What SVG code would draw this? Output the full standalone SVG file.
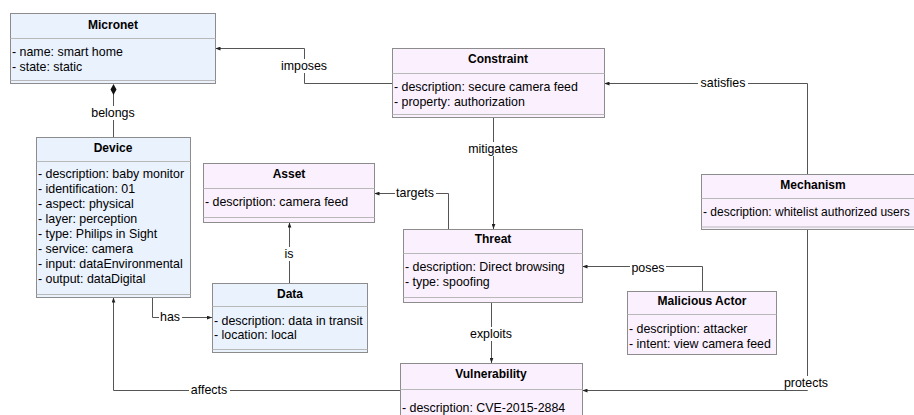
<svg xmlns="http://www.w3.org/2000/svg" width="914" height="415" viewBox="0 0 914 415">
<defs>
<style>
text{font-family:"Liberation Sans",Arial,sans-serif;font-size:12.4px;fill:#000}
.t{font-weight:bold;text-anchor:middle;font-size:12px}
.blue{fill:#eaf2fe;stroke:#8c8c8c;stroke-width:1}
.pink{fill:#fbf1fe;stroke:#8c8c8c;stroke-width:1}
.sep{stroke:#b8b8b8;stroke-width:1;fill:none}
.c{fill:none;stroke:#555;stroke-width:1}
.lb{fill:#fff}
.l{text-anchor:middle}
</style>
<marker id="arr" viewBox="0 0 8 6" markerWidth="5" markerHeight="4" refX="8" refY="3" orient="auto" markerUnits="userSpaceOnUse">
<path d="M0,0 L8,3 L0,6 z" fill="#222"/>
</marker>
</defs>
<g id="connectors">
<path class="c" d="M392.5,83.5 H304.5 V48.5 H215.5" marker-end="url(#arr)"/>
<path class="c" d="M113.5,137 V94"/>
<polygon points="113.5,84 116.5,89.5 113.5,95 110.5,89.5" fill="#111"/>
<path class="c" d="M493.5,118 V229" marker-end="url(#arr)"/>
<path class="c" d="M807.5,174 V83.5 H604.5" marker-end="url(#arr)"/>
<path class="c" d="M448.5,229 V193.5 H374.5" marker-end="url(#arr)"/>
<path class="c" d="M289.5,283 V222.5" marker-end="url(#arr)"/>
<path class="c" d="M152.5,297 V317.5 H212" marker-end="url(#arr)"/>
<path class="c" d="M400,390.5 H113.5 V297.5" marker-end="url(#arr)"/>
<path class="c" d="M702.5,291 V266.5 H582.5" marker-end="url(#arr)"/>
<path class="c" d="M491.5,302 V363" marker-end="url(#arr)"/>
<path class="c" d="M807.5,229 V390.5 H582.5" marker-end="url(#arr)"/>
<rect class="lb" x="280" y="59" width="48" height="14"/><text class="l" x="304" y="70">imposes</text>
<rect class="lb" x="90" y="106" width="46" height="14"/><text class="l" x="113" y="117">belongs</text>
<rect class="lb" x="466" y="142" width="54" height="14"/><text class="l" x="493" y="153">mitigates</text>
<rect class="lb" x="698" y="76" width="50" height="14"/><text class="l" x="723" y="87">satisfies</text>
<rect class="lb" x="395" y="186" width="41" height="14"/><text class="l" x="415" y="197">targets</text>
<rect class="lb" x="283" y="247" width="12" height="14"/><text class="l" x="289" y="258">is</text>
<rect class="lb" x="159" y="310" width="23" height="14"/><text class="l" x="170" y="321">has</text>
<rect class="lb" x="189" y="383" width="41" height="14"/><text class="l" x="209" y="394">affects</text>
<rect class="lb" x="630" y="262" width="36" height="13"/><text class="l" x="648" y="272">poses</text>
<rect class="lb" x="468" y="327" width="46" height="14"/><text class="l" x="491" y="338">exploits</text>
<rect class="lb" x="782" y="376" width="48" height="14"/><text class="l" x="806" y="387">protects</text>
</g>
<g id="micronet">
<rect class="blue" x="10.5" y="13.5" width="205" height="70"/>
<line class="sep" x1="10.5" y1="38.5" x2="215.5" y2="38.5"/>
<line class="sep" x1="10.5" y1="80.5" x2="215.5" y2="80.5"/>
<text class="t" x="113" y="29">Micronet</text>
<text x="12" y="56">- name: smart home</text>
<text x="12" y="71">- state: static</text>
</g>
<g id="device">
<rect class="blue" x="36.5" y="137.5" width="154" height="160"/>
<line class="sep" x1="36.5" y1="161.5" x2="190.5" y2="161.5"/>
<line class="sep" x1="36.5" y1="294.5" x2="190.5" y2="294.5"/>
<text class="t" x="113" y="152">Device</text>
<text x="38" y="178">- description: baby monitor</text>
<text x="38" y="193">- identification: 01</text>
<text x="38" y="208">- aspect: physical</text>
<text x="38" y="223">- layer: perception</text>
<text x="38" y="238">- type: Philips in Sight</text>
<text x="38" y="253">- service: camera</text>
<text x="38" y="268">- input: dataEnvironmental</text>
<text x="38" y="283">- output: dataDigital</text>
</g>
<g id="asset">
<rect class="pink" x="203.5" y="163.5" width="171" height="59"/>
<line class="sep" x1="203.5" y1="188.5" x2="374.5" y2="188.5"/>
<line class="sep" x1="203.5" y1="217.5" x2="374.5" y2="217.5"/>
<text class="t" x="289" y="178">Asset</text>
<text x="205" y="206">- description: camera feed</text>
</g>
<g id="data">
<rect class="blue" x="212.5" y="283.5" width="155" height="69"/>
<line class="sep" x1="212.5" y1="306.5" x2="367.5" y2="306.5"/>
<line class="sep" x1="212.5" y1="349.5" x2="367.5" y2="349.5"/>
<text class="t" x="290" y="298">Data</text>
<text x="214" y="325">- description: data in transit</text>
<text x="214" y="339">- location: local</text>
</g>
<g id="constraint">
<rect class="pink" x="392.5" y="48.5" width="212" height="69"/>
<line class="sep" x1="392.5" y1="73.5" x2="604.5" y2="73.5"/>
<line class="sep" x1="392.5" y1="114.5" x2="604.5" y2="114.5"/>
<text class="t" x="498" y="63">Constraint</text>
<text x="394" y="91">- description: secure camera feed</text>
<text x="394" y="106">- property: authorization</text>
</g>
<g id="threat">
<rect class="pink" x="403.5" y="229.5" width="179" height="73"/>
<line class="sep" x1="403.5" y1="253.5" x2="582.5" y2="253.5"/>
<line class="sep" x1="403.5" y1="297.5" x2="582.5" y2="297.5"/>
<text class="t" x="493" y="243">Threat</text>
<text x="405" y="271">- description: Direct browsing</text>
<text x="405" y="286">- type: spoofing</text>
</g>
<g id="malicious-actor">
<rect class="pink" x="627.5" y="291.5" width="149" height="63"/>
<line class="sep" x1="627.5" y1="314.5" x2="776.5" y2="314.5"/>
<text class="t" x="702" y="305">Malicious Actor</text>
<text x="629" y="333">- description: attacker</text>
<text x="629" y="348">- intent: view camera feed</text>
</g>
<g id="mechanism">
<rect class="pink" x="701.5" y="174.5" width="224" height="55"/>
<line class="sep" x1="701.5" y1="198.5" x2="925.5" y2="198.5"/>
<line class="sep" x1="701.5" y1="227" x2="925.5" y2="227"/>
<text class="t" x="813" y="189">Mechanism</text>
<text x="703" y="216" style="font-size:12px">- description: whitelist authorized users</text>
</g>
<g id="vulnerability">
<rect class="pink" x="400.5" y="363.5" width="182" height="70"/>
<line class="sep" x1="400.5" y1="389.5" x2="582.5" y2="389.5"/>
<text class="t" x="491" y="378">Vulnerability</text>
<text x="402" y="412">- description: CVE-2015-2884</text>
</g>
</svg>
